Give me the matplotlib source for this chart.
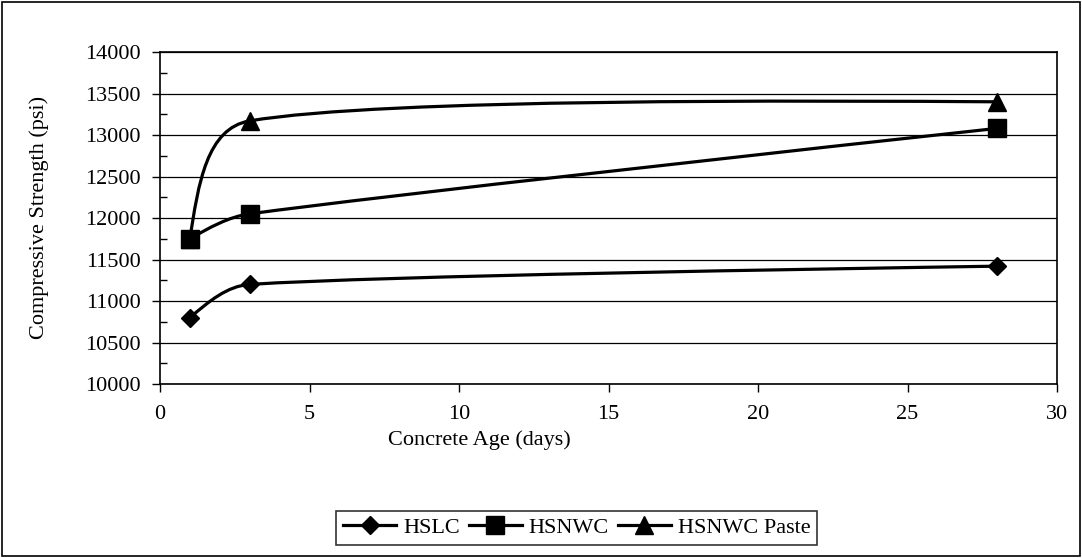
import numpy as np
import matplotlib
matplotlib.use("Agg")
import matplotlib.pyplot as plt
from matplotlib.path import Path
from matplotlib.patches import PathPatch, Rectangle
from matplotlib.lines import Line2D

# concrete age (days)
age = [1, 3, 28]

# compressive strength (psi)
hslc = [10800, 11200, 11420]
hsnwc = [11750, 12050, 13080]
hsnwc_paste = [11750, 13170, 13400]

series_names = ["HSLC", "HSNWC", "HSNWC Paste"]
series_markers = ["D", "s", "^"]
series_msize = [9.5, 13, 13]

plt.rcParams["font.family"] = ["Liberation Serif", "DejaVu Serif"]
plt.rcParams["font.size"] = 16


def smooth_curve(ax, xs, ys):
    # excel-like smoothed line: bezier segments built in pixel space
    pts = ax.transData.transform(np.column_stack([xs, ys]))
    n = len(pts)
    before = [None] * n
    after = [None] * n
    for i in range(1, n - 1):
        d = pts[i + 1] - pts[i - 1]
        u = d / np.linalg.norm(d)
        tl = np.linalg.norm(d) / 6
        lb = min(tl, 0.33 * np.linalg.norm(pts[i] - pts[i - 1]))
        lf = min(tl, 0.33 * np.linalg.norm(pts[i + 1] - pts[i]))
        before[i] = pts[i] - u * lb
        after[i] = pts[i] + u * lf
    after[0] = pts[0] + (before[1] - pts[0]) * 0.5
    before[n - 1] = pts[-1] + (after[n - 2] - pts[-1]) * 0.3

    verts = [pts[0]]
    codes = [Path.MOVETO]
    for i in range(n - 1):
        verts += [after[i], before[i + 1], pts[i + 1]]
        codes += [Path.CURVE4] * 3
    verts = ax.transData.inverted().transform(np.array(verts))
    return PathPatch(Path(verts, codes), fill=False, edgecolor="black",
                     lw=2.3, zorder=3)


fig = plt.figure(figsize=(10.82, 5.58), dpi=100)
fig.patch.set_facecolor("white")
fig.patches.append(Rectangle((0.002, 0.004), 0.996, 0.992, transform=fig.transFigure,
                             fill=False, edgecolor="black", lw=1.2))

ax = fig.add_axes([0.1479, 0.3118, 0.8290, 0.5950])
ax.set_xlim(0, 30)
ax.set_ylim(10000, 14000)
ax.set_xticks(np.arange(0, 31, 5))
ax.set_yticks(np.arange(10000, 14001, 500))
ax.set_yticks(np.arange(10000, 14001, 250), minor=True)
ax.tick_params(axis="x", which="major", direction="out", length=6, width=1,
               pad=9, labelsize=16)
ax.tick_params(axis="y", which="major", direction="out", length=6, width=1,
               pad=8, labelsize=16)
ax.tick_params(axis="y", which="minor", direction="in", length=5, width=1)
ax.grid(axis="y", which="major", color="black", lw=0.9)
ax.set_axisbelow(True)
for sp in ax.spines.values():
    sp.set_color("black")
    sp.set_linewidth(1.2)

handles = []
for ys, name, mk, ms in zip([hslc, hsnwc, hsnwc_paste], series_names,
                            series_markers, series_msize):
    ax.add_patch(smooth_curve(ax, age, ys))
    ax.plot(age, ys, linestyle="none", marker=mk, markersize=ms,
            color="black", zorder=4)
    handles.append(Line2D([], [], color="black", lw=2.3, marker=mk,
                          markersize=ms, label=name))

fig.text(0.036, 0.61, "Compressive Strength (psi)", rotation=90,
         ha="center", va="center", fontsize=16)
fig.text(0.443, 0.212, "Concrete Age (days)", ha="center", va="center",
         fontsize=16)

leg = fig.legend(handles=handles, loc="center", bbox_to_anchor=(0.533, 0.054),
                 ncol=3, frameon=True, fancybox=False, edgecolor="black",
                 fontsize=16, handlelength=2.4, columnspacing=0.4,
                 handletextpad=0.3, borderpad=0.3)
leg.get_frame().set_linewidth(1.2)

fig.savefig("out.png", dpi=100)
